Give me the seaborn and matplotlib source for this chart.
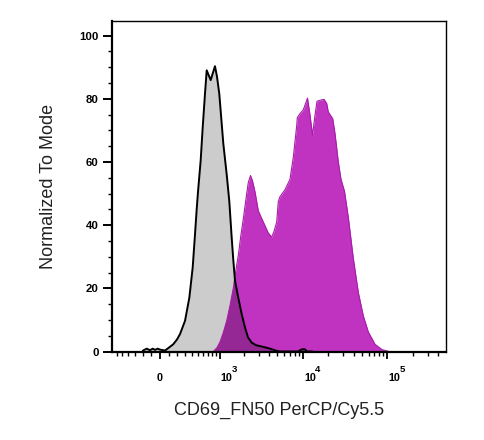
import numpy as np
import matplotlib
matplotlib.use("Agg")
import matplotlib.pyplot as plt
import seaborn as sns

# ---------------- data (intensity, % of mode) ----------------
iso_x = [-200, -195, -150, -111, -80, -54, -25, 1, 57, 91, 153, 198, 236, 303, 365, 417,
         455, 483, 506, 555, 594, 640, 676, 766, 873, 927, 992, 1116, 1231, 1326, 1419,
         1484, 1558, 1709, 1879, 2060, 2237, 2479, 2790, 3115, 3743, 4326, 4920, 5383,
         8800, 9287, 9800, 10650, 11200, 13000]
iso_y = [0.0, 0.3, 0.9, 0.4, 0.9, 0.5, 0.9, 0.6, 0.3, 1.0, 2.3, 3.8, 5.5, 9.7, 17.0, 26.6,
         37.2, 45.0, 50.5, 60.5, 71.0, 81.6, 89.0, 85.9, 90.3, 87.0, 81.6, 65.8, 56.0, 47.5,
         36.0, 29.0, 22.4, 17.0, 11.8, 7.6, 4.5, 2.8, 2.0, 1.7, 1.2, 0.7, 0.2, 0.0,
         0.0, 0.4, 0.7, 0.7, 0.0, 0.0]

cd69_x = [830, 927, 1013, 1116, 1231, 1352, 1484, 1602, 1709, 1842, 1965, 2060, 2159, 2257,
          2398, 2534, 2716, 2973, 3410, 3910, 4291, 4571, 4920, 5139, 5383, 6169, 7070,
          7739, 8489, 8630, 9287, 10160, 10640, 11390, 12200, 13056, 13977, 14757, 16016,
          17855, 19218, 20075, 22623, 24085, 26350, 28358, 31196, 34594, 39646, 45426,
          52035, 59621, 71548, 86580, 104740]
cd69_y = [0.0, 1.2, 3.0, 6.0, 9.7, 14.5, 20.0, 26.0, 30.5, 37.0, 42.0, 46.0, 50.0, 53.5,
          55.7, 54.0, 50.5, 44.5, 41.0, 37.5, 36.2, 38.0, 41.0, 47.5, 49.0, 51.2, 54.5,
          61.5, 71.5, 74.0, 75.3, 76.5, 78.0, 80.2, 74.8, 68.5, 74.8, 79.2, 79.5, 79.8,
          78.5, 75.8, 73.7, 69.0, 60.0, 54.5, 50.7, 42.5, 29.5, 18.7, 11.3, 6.2, 2.3, 0.6,
          0.0]

x_major = [0, 1000, 10000, 100000]
x_major_labels = ["0", "10", "10", "10"]
x_exponents = ["", "3", "4", "5"]
x_minor = [-600, -500, -400, -300, -200, -100,
           100, 200, 300, 400, 500, 600, 700, 800, 900,
           2000, 3000, 4000, 5000, 6000, 7000, 8000, 9000,
           20000, 30000, 40000, 50000, 60000, 70000, 80000, 90000,
           200000, 300000, 400000]
y_major = [0, 20, 40, 60, 80, 100]
y_major_labels = ["0", "20", "40", "60", "80", "100"]
y_minor = [5, 10, 15, 25, 30, 35, 45, 50, 55, 65, 70, 75, 85, 90, 95]

x_label = "CD69_FN50 PerCP/Cy5.5"
y_label = "Normalized To Mode"
X_LIMITS = (-692, 490000)
Y_LIMITS = (0, 104.7)

# biexponential-like display transform
C = 205.0


def fwd(x):
    return np.arcsinh(np.asarray(x, dtype=float) / (2 * C)) / np.log(10) + np.log10(C)


def inv(u):
    return 2 * C * np.sinh((np.asarray(u, dtype=float) - np.log10(C)) * np.log(10))


# ---------------- style ----------------
sns.set_theme(style="ticks")
plt.rcParams["font.family"] = ["Liberation Sans", "DejaVu Sans"]

fig = plt.figure(figsize=(4.85, 4.4), dpi=100)
ax = fig.add_axes([112.3 / 485, (440 - 351.5) / 440, (445.7 - 112.3) / 485, (351.5 - 20.7) / 440])
ax.set_xscale("function", functions=(fwd, inv))

grey_fill = ax.fill_between(iso_x, iso_y, 0, color="#cccccc", lw=0, zorder=1)
mag_fill = ax.fill_between(cd69_x, cd69_y, 0, color="#c032c0", lw=0, zorder=1.2)
overlap = ax.fill_between(iso_x, iso_y, 0, color="#952895", lw=0, zorder=1.4)
overlap.set_clip_path(mag_fill.get_paths()[0], mag_fill.get_transform())

sns.lineplot(x=cd69_x, y=cd69_y, color="#a81ca8", lw=0.8, estimator=None, sort=False,
             ax=ax, zorder=1.6)
sns.lineplot(x=iso_x, y=iso_y, color="black", lw=1.4, estimator=None, sort=False,
             ax=ax, zorder=2)

ax.set_xlim(*X_LIMITS)
ax.set_ylim(*Y_LIMITS)

ax.set_xticks(x_major)
ax.set_xticklabels([""] * len(x_major))
ax.set_xticks(x_minor, minor=True)
ax.set_yticks(y_major)
ax.set_yticklabels(y_major_labels)
ax.set_yticks(y_minor, minor=True)

ax.tick_params(axis="x", which="major", direction="out", length=5, width=1.3, color="black")
ax.tick_params(axis="x", which="minor", direction="out", length=3, width=1.0, color="black")
ax.tick_params(axis="y", which="major", direction="out", length=6.5, width=1.4,
               color="black", labelsize=8.2, labelcolor="black", pad=3.2)
ax.tick_params(axis="y", which="minor", direction="out", length=2.6, width=1.0, color="black")

for lab in ax.get_yticklabels():
    lab.set_fontweight("bold")

# x tick labels: "0" centred, decades as "10" with a raised exponent
for xv, base, ex in zip(x_major, x_major_labels, x_exponents):
    if ex:
        ax.annotate(base, xy=(xv, 0), xycoords=("data", "axes fraction"),
                    xytext=(0.9, -20.9), textcoords="offset points",
                    ha="left", va="baseline", fontsize=7.8, fontweight="bold",
                    color="black", annotation_clip=False)
        ax.annotate(ex, xy=(xv, 0), xycoords=("data", "axes fraction"),
                    xytext=(9.0, -14.8), textcoords="offset points",
                    ha="left", va="baseline", fontsize=6.8, fontweight="bold",
                    color="black", annotation_clip=False)
    else:
        ax.annotate(base, xy=(xv, 0), xycoords=("data", "axes fraction"),
                    xytext=(0, -20.9), textcoords="offset points",
                    ha="center", va="baseline", fontsize=7.8, fontweight="bold",
                    color="black", annotation_clip=False)

for side in ["left", "bottom"]:
    ax.spines[side].set_linewidth(1.6)
    ax.spines[side].set_color("black")
for side in ["top", "right"]:
    ax.spines[side].set_linewidth(1.0)
    ax.spines[side].set_color("black")

ax.set_xlabel(x_label, fontsize=13, color="#222222")
ax.set_ylabel(y_label, fontsize=13, color="#222222")
ax.xaxis.label.set_va("center")
ax.yaxis.label.set_va("center")
ax.xaxis.set_label_coords(0.5, (351.5 - 410.7) / 330.8)
ax.yaxis.set_label_coords((48.3 - 112.3) / 333.4, 0.5)

fig.savefig("out.png", dpi=100)
